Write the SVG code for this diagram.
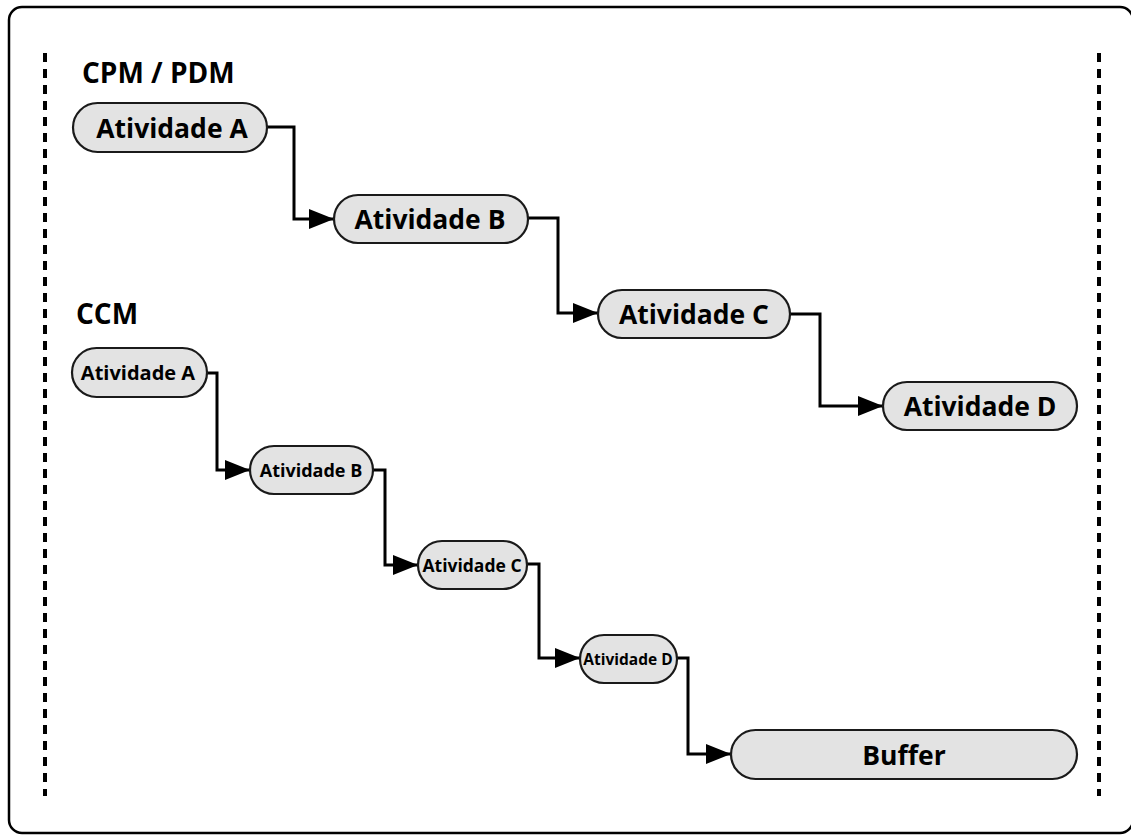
<svg xmlns="http://www.w3.org/2000/svg" width="1131" height="835" viewBox="0 0 1131 835">
  <style>
    .frame { fill: #ffffff; stroke: #000000; stroke-width: 2.5; }
    .lane { stroke: #000000; stroke-width: 4; stroke-dasharray: 9 7; fill: none; }
    .title { font-family: "Open Sans", "Liberation Sans", sans-serif; font-weight: 700; font-size: 28px; fill: #000000; }
    .box { fill: #e3e3e3; stroke: #1a1a1a; stroke-width: 2.2; }
    .label { font-family: "Open Sans", "Liberation Sans", sans-serif; font-weight: 700; fill: #000000; text-anchor: middle; dominant-baseline: central; }
    .link { fill: none; stroke: #000000; stroke-width: 3; marker-end: url(#head); }
  </style>
  <defs>
    <marker id="head" markerUnits="userSpaceOnUse" markerWidth="25" markerHeight="20" refX="25" refY="10" orient="auto">
      <path d="M0,0 L25,10 L0,20 z" fill="#000000"/>
    </marker>
  </defs>

  <!-- outer frame -->
  <rect class="frame" x="9" y="7" width="1124" height="826" rx="13"/>

  <!-- lane boundaries -->
  <line class="lane" x1="45" y1="53" x2="45" y2="796"/>
  <line class="lane" x1="1099" y1="53" x2="1099" y2="796"/>

  <!-- section titles -->
  <text class="title" x="82" y="83">CPM / PDM</text>
  <text class="title" x="76" y="324">CCM</text>

  <!-- connectors -->
  <g id="connectors">
    <path class="link" d="M267,127 H294 V219 H334"/>
    <path class="link" d="M528,218 H558 V313 H598"/>
    <path class="link" d="M790,314 H820 V406 H883"/>
    <path class="link" d="M207,373 H217 V470 H250"/>
    <path class="link" d="M373,470 H385 V565 H418"/>
    <path class="link" d="M527,564 H539 V658 H580"/>
    <path class="link" d="M677,658 H688 V754 H731"/>
  </g>

  <!-- CPM / PDM chain -->
  <g id="cpm-a">
    <rect class="box" x="73" y="103" width="194" height="49" rx="24.5"/>
    <text class="label" x="172" y="127.5" font-size="26.5">Atividade A</text>
  </g>
  <g id="cpm-b">
    <rect class="box" x="334" y="195" width="194" height="48" rx="24"/>
    <text class="label" x="430" y="219" font-size="26.5">Atividade B</text>
  </g>
  <g id="cpm-c">
    <rect class="box" x="598" y="290" width="192" height="48" rx="24"/>
    <text class="label" x="694" y="314" font-size="26.5">Atividade C</text>
  </g>
  <g id="cpm-d">
    <rect class="box" x="883" y="382" width="194" height="48" rx="24"/>
    <text class="label" x="980" y="406" font-size="26.5">Atividade D</text>
  </g>

  <!-- CCM chain -->
  <g id="ccm-a">
    <rect class="box" x="72" y="348" width="135" height="49" rx="24.5"/>
    <text class="label" x="138" y="372.5" font-size="20">Atividade A</text>
  </g>
  <g id="ccm-b">
    <rect class="box" x="250" y="446" width="123" height="48" rx="24"/>
    <text class="label" x="311" y="470" font-size="18">Atividade B</text>
  </g>
  <g id="ccm-c">
    <rect class="box" x="418" y="541" width="109" height="48" rx="24"/>
    <text class="label" x="472" y="565" font-size="17.5">Atividade C</text>
  </g>
  <g id="ccm-d">
    <rect class="box" x="580" y="635" width="97" height="48" rx="24"/>
    <text class="label" x="628" y="659" font-size="15.5">Atividade D</text>
  </g>
  <g id="buffer">
    <rect class="box" x="731" y="730" width="346" height="49" rx="24.5"/>
    <text class="label" x="904" y="755" font-size="26.5">Buffer</text>
  </g>
</svg>
